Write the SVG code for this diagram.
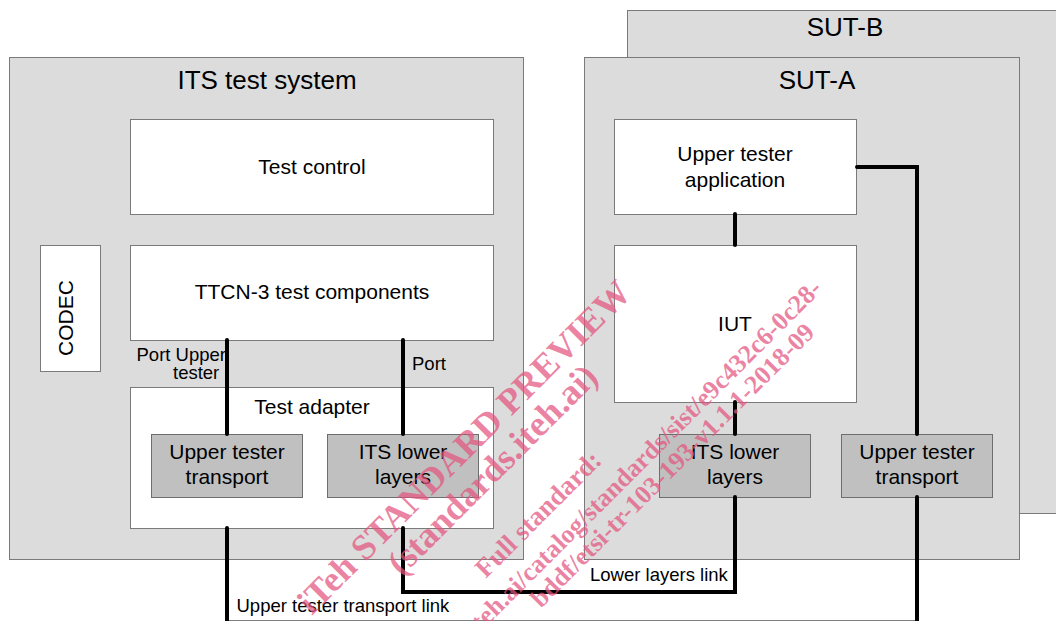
<svg xmlns="http://www.w3.org/2000/svg" width="1056" height="621" viewBox="0 0 1056 621">
  <style>
    .sys { fill: #dcdcdc; stroke: #7a7a7a; stroke-width: 1; }
    .blk { fill: #ffffff; stroke: #7a7a7a; stroke-width: 1; }
    .mod { fill: #c0c0c0; stroke: #6e6e6e; stroke-width: 1; }
    text { font-family: "Liberation Sans", Arial, sans-serif; fill: #000; }
    .title { font-size: 26px; text-anchor: middle; }
    .lbl { font-size: 21px; text-anchor: middle; }
    .small { font-size: 18.5px; }
    .link { fill: none; stroke: #000; stroke-width: 4; stroke-linecap: round; stroke-linejoin: miter; }
    .wm { font-family: "Liberation Serif", "Times New Roman", serif; font-weight: bold; fill: #e4557f; fill-opacity: 0.72; }
  </style>

  <rect width="1056" height="621" fill="#ffffff"/>

  <!-- second system under test (behind) -->
  <g id="sut-b">
    <rect class="sys" x="627.5" y="10.5" width="440" height="503"/>
    <text class="title" x="845" y="36">SUT-B</text>
  </g>

  <!-- system under test A -->
  <g id="sut-a">
    <rect class="sys" x="584.5" y="57.5" width="435" height="502"/>
    <text class="title" x="817" y="89">SUT-A</text>
  </g>

  <!-- test system -->
  <g id="its-test-system">
    <rect class="sys" x="9.5" y="57.5" width="514" height="502"/>
    <text class="title" x="267" y="89">ITS test system</text>
  </g>

  <g id="test-control">
    <rect class="blk" x="130.5" y="119.5" width="363" height="95"/>
    <text class="lbl" x="312" y="174">Test control</text>
  </g>

  <g id="codec">
    <rect class="blk" x="40.5" y="245.5" width="60" height="126"/>
    <text class="lbl" transform="translate(73 318) rotate(-90)" x="0" y="0">CODEC</text>
  </g>

  <g id="ttcn3-components">
    <rect class="blk" x="130.5" y="245.5" width="363" height="95"/>
    <text class="lbl" x="312" y="299">TTCN-3 test components</text>
  </g>

  <g id="test-adapter">
    <rect class="blk" x="130.5" y="387.5" width="363" height="141"/>
    <text class="lbl" x="312" y="414">Test adapter</text>
  </g>

  <g id="ta-upper-tester-transport">
    <rect class="mod" x="151.5" y="434.5" width="151" height="63"/>
    <text class="lbl" x="227" y="459">Upper tester</text>
    <text class="lbl" x="227" y="484">transport</text>
  </g>

  <g id="ta-its-lower-layers">
    <rect class="mod" x="327.5" y="434.5" width="151" height="63"/>
    <text class="lbl" x="403" y="459">ITS lower</text>
    <text class="lbl" x="403" y="484">layers</text>
  </g>

  <g id="upper-tester-application">
    <rect class="blk" x="614.5" y="119.5" width="242" height="95"/>
    <text class="lbl" x="735" y="161">Upper tester</text>
    <text class="lbl" x="735" y="187">application</text>
  </g>

  <g id="iut">
    <rect class="blk" x="614.5" y="245.5" width="242" height="157"/>
    <text class="lbl" x="735" y="331">IUT</text>
  </g>

  <g id="sut-its-lower-layers">
    <rect class="mod" x="659.5" y="434.5" width="151" height="63"/>
    <text class="lbl" x="735" y="459">ITS lower</text>
    <text class="lbl" x="735" y="484">layers</text>
  </g>

  <g id="sut-upper-tester-transport">
    <rect class="mod" x="841.5" y="434.5" width="151" height="63"/>
    <text class="lbl" x="917" y="459">Upper tester</text>
    <text class="lbl" x="917" y="484">transport</text>
  </g>

  <!-- connectors -->
  <g id="connectors">
    <path class="link" d="M227 340 V434"/>
    <path class="link" d="M403 340 V434"/>
    <path class="link" d="M227 528 V622.5 H917 V497"/>
    <path class="link" d="M403 528 V592 H735 V497"/>
    <path class="link" d="M735 214 V245"/>
    <path class="link" d="M735 402 V434"/>
    <path class="link" d="M857 167 H917 V434"/>
  </g>

  <!-- connector labels -->
  <g id="connector-labels">
    <text class="small" x="136.5" y="361">Port Upper</text>
    <text class="small" x="173" y="379">tester</text>
    <text class="small" x="412" y="370">Port</text>
    <text class="small" x="590" y="581">Lower layers link</text>
    <text class="small" x="236.5" y="612">Upper tester transport link</text>
  </g>

  <!-- diagonal stamp text -->
  <g id="watermark" transform="rotate(-45)">
    <text class="wm" x="12" y="656" font-size="36" text-anchor="middle">iTeh STANDARD PREVIEW</text>
    <text class="wm" x="16" y="692" font-size="36" text-anchor="middle">(standards.iteh.ai)</text>
    <text class="wm" x="17" y="753" font-size="27" text-anchor="middle">Full standard:</text>
    <text class="wm" x="377" y="787" font-size="26" text-anchor="end">https://standards.iteh.ai/catalog/standards/sist/e9c432c6-0c28-</text>
    <text class="wm" x="341" y="813" font-size="26" text-anchor="end">bddf/etsi-tr-103-193-v1.1.1-2018-09</text>
  </g>
</svg>
